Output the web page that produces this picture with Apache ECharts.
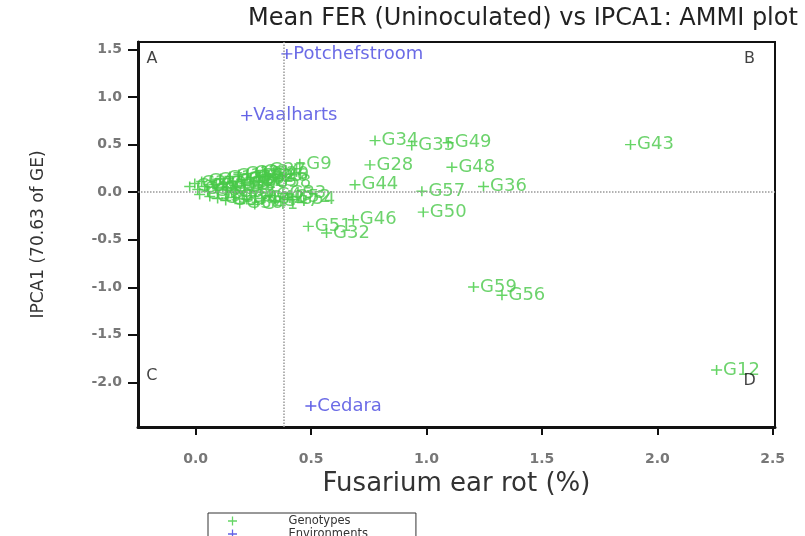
<!DOCTYPE html>
<html>
<head>
<meta charset="utf-8">
<script src="https://cdn.jsdelivr.net/npm/echarts@6/dist/echarts.min.js"></script>
<style>html,body{margin:0;padding:0;background:#fff}#c{width:805px;height:536px}</style>
</head>
<body>
<div id="c"></div>
<script>
// ---- data ----
const genoNames = ['G1','G2','G3','G4','G5','G6','G7','G8','G10','G11','G13','G14','G15','G16','G17','G18','G19','G20','G21','G22','G23','G24','G25','G27','G29',
  'G30','G31','G37','G39','G40','G41','G42','G45','G47','G52','G53','G55','G58',
  'G26','G38','G33','G54','G9','G51','G32','G46','G44','G28','G34','G35','G49','G48','G57','G36','G50','G59','G56','G43','G12'];
const genoX = [-0.026,-0.004,0.009,0.026,0.039,0.052,0.069,0.082,0.095,0.108,0.122,0.135,0.148,0.161,0.174,0.187,0.200,0.213,0.226,0.239,0.252,0.265,0.278,0.291,0.304,
  0.061,0.095,0.130,0.165,0.221,0.256,0.286,0.321,0.347,0.399,0.156,0.017,0.313,
  0.300,0.191,0.378,0.417,0.451,0.488,0.567,0.683,0.690,0.755,0.777,0.936,1.094,1.110,0.980,1.247,0.986,1.204,1.327,1.884,2.257];
const genoY = [0.060,0.091,0.028,0.112,0.060,0.007,0.123,0.081,0.039,0.144,0.091,0.049,0.165,0.112,0.070,0.186,0.133,0.091,0.196,0.154,0.112,0.207,0.165,0.228,0.186,
  -0.045,-0.066,-0.087,-0.056,-0.077,-0.129,-0.066,-0.035,-0.098,-0.056,-0.003,-0.024,0.102,
  0.165,-0.119,-0.014,-0.077,0.298,-0.360,-0.430,-0.290,0.078,0.287,0.543,0.490,0.520,0.262,0.010,0.060,-0.210,-0.997,-1.084,0.500,-1.871];
const envNames = ['Potchefstroom','Vaalharts','Cedara'];
const envX = [0.395,0.221,0.499];
const envY = [1.455,0.805,-2.249];
const xTicks = [0,0.5,1,1.5,2,2.5];
const yTicks = [-2,-1.5,-1,-0.5,0,0.5,1,1.5];
const quadLabels = ['A','B','C','D'];
const quadX = [-0.19,2.40,-0.19,2.40];
const quadY = [1.40,1.40,-1.93,-1.98];
const meanX = 0.378;
const meanY = 0;

// ---- chart ----
const FONT = 'DejaVu Sans';
const plus = 'path://M0,4.3H10V5.7H0ZM4.3,0H5.7V10H4.3Z';
const green = '#3fca3f', blue = '#3b3be0';
const chart = echarts.init(document.getElementById('c'), null, {renderer:'canvas'});
const mk = (names, xs, ys) => names.map((n,i)=>({name:n, value:[xs[i], ys[i]]}));
chart.setOption({
  animation:false,
  backgroundColor:'#fff',
  title:{text:'Mean FER (Uninoculated) vs IPCA1: AMMI plot', left:523, textAlign:'center', top:7, padding:0,
    textStyle:{fontFamily:FONT, fontSize:24, fontWeight:'normal', color:'#222'}},
  legend:{orient:'vertical', left:208, top:513, height:60, itemGap:1, itemWidth:10, itemHeight:9,
    padding:[2,48,2,20], borderColor:'#333', borderWidth:1,
    data:[{name:'Genotypes', icon:plus},{name:'Environments', icon:plus}],
    textStyle:{fontFamily:FONT, fontSize:11.5, color:'#333', padding:[0,0,0,46]}},
  grid:{left:138, top:42, width:637, height:385, show:true, borderColor:'#111', borderWidth:2, backgroundColor:'transparent'},
  xAxis:{type:'value', min:-0.25, max:2.51,
    name:'Fusarium ear rot (%)', nameLocation:'middle', nameGap:42,
    nameTextStyle:{fontFamily:FONT, fontSize:26, color:'#333'},
    axisLine:{onZero:false, lineStyle:{color:'#111', width:3}},
    axisTick:{show:true, customValues:xTicks, length:8, lineStyle:{color:'#111', width:2}},
    axisLabel:{customValues:xTicks, margin:25, formatter:v=>v.toFixed(1), fontFamily:FONT, fontSize:14, fontWeight:'bold', color:'#777'},
    splitLine:{show:false}},
  yAxis:{type:'value', min:-2.47, max:1.58,
    name:'IPCA1 (70.63 of GE)', nameLocation:'middle', nameGap:91, nameRotate:90,
    nameTextStyle:{fontFamily:FONT, fontSize:17, color:'#333'},
    axisLine:{onZero:false, lineStyle:{color:'#111', width:3}},
    axisTick:{show:true, customValues:yTicks, length:10, lineStyle:{color:'#111', width:2}},
    axisLabel:{customValues:yTicks, margin:16, formatter:v=>v.toFixed(1), fontFamily:FONT, fontSize:14, fontWeight:'bold', color:'#777'},
    splitLine:{show:false}},
  series:[
    {name:'Genotypes', type:'scatter', symbol:plus, symbolSize:[11,10],
      itemStyle:{color:green}, data:mk(genoNames, genoX, genoY),
      label:{show:true, position:'right', distance:1, formatter:'{b}', fontFamily:FONT, fontSize:18, color:'#48c848'},
      markLine:{silent:true, symbol:'none', label:{show:false},
        lineStyle:{type:'dotted', color:'#999', width:1.5},
        data:[{xAxis:meanX},{yAxis:meanY}]}},
    {name:'Environments', type:'scatter', symbol:plus, symbolSize:[11,10],
      itemStyle:{color:blue}, data:mk(envNames, envX, envY),
      label:{show:true, position:'right', distance:1, formatter:'{b}', fontFamily:FONT, fontSize:18, color:'#4646e0'}},
    {name:'quadrants', type:'scatter', symbolSize:0, silent:true,
      data:mk(quadLabels, quadX, quadY),
      label:{show:true, position:'inside', formatter:'{b}', fontFamily:FONT, fontSize:16, color:'#111'}}
  ]
});
</script>
</body>
</html>
